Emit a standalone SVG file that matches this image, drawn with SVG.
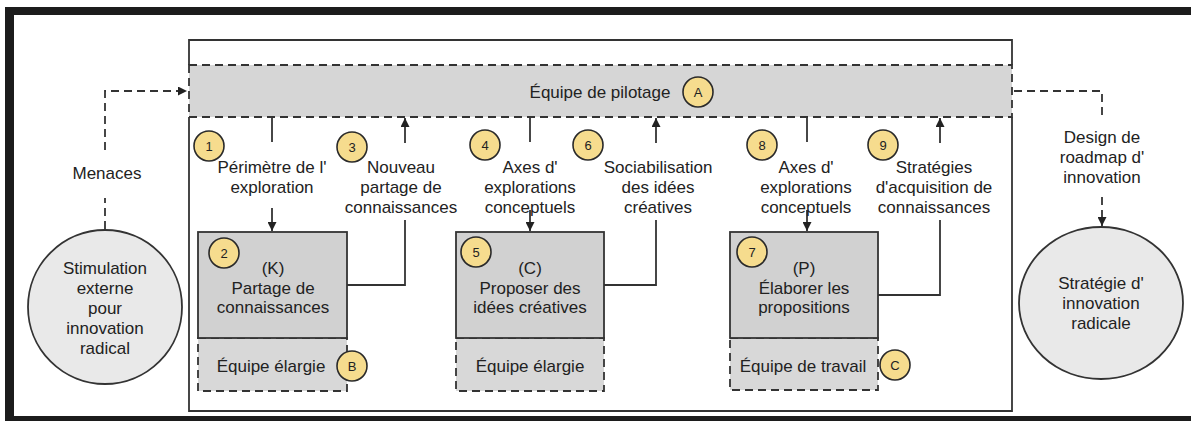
<svg xmlns="http://www.w3.org/2000/svg" width="1191" height="421" viewBox="0 0 1191 421">
<defs>
<style>
text{font-family:"Liberation Sans",Arial,sans-serif;fill:#222;}
.t{font-size:17px;text-anchor:middle;}
.bt{font-size:13px;text-anchor:middle;}
.badge{fill:#f6dc8e;stroke:#2a2a2a;stroke-width:1.6;}
.box{fill:#d1d1d1;stroke:#333;stroke-width:1.8;}
.team{fill:#d8d8d8;stroke:#333;stroke-width:1.8;stroke-dasharray:8 5;}
.circ{fill:#e9e9e9;stroke:#333;stroke-width:1.8;}
.ln{fill:none;stroke:#333;stroke-width:1.8;}
.dl{fill:none;stroke:#333;stroke-width:1.8;stroke-dasharray:8 5;}
</style>
<marker id="ah" viewBox="0 0 10 10" refX="10" refY="5" markerWidth="9" markerHeight="9" markerUnits="userSpaceOnUse" orient="auto">
<path d="M0,0 L10,5 L0,10 z" fill="#222"/>
</marker>
</defs>
<rect x="0" y="0" width="1191" height="421" fill="#fff"/>
<g id="frame" fill="#1c1c1c">
<rect x="5" y="7" width="1186" height="8"/>
<rect x="5" y="7" width="9" height="414"/>
<rect x="5" y="416" width="1186" height="5"/>
</g>
<g id="main-box">
<path class="ln" d="M189,65 V40 H1012 V65 M189,117 V411 H1012 V117"/>
</g>
<g id="pilotage">
<rect x="189" y="65" width="823" height="52" fill="#d6d6d6" stroke="#333" stroke-width="1.8" stroke-dasharray="8 5"/>
<text class="t" x="600" y="98">Équipe de pilotage</text>
<circle class="badge" cx="698" cy="92" r="15"/>
<text class="bt" x="698" y="97">A</text>
</g>
<g id="stimulation">
<circle class="circ" cx="105" cy="307" r="77"/>
<text class="t" x="105" y="274">Stimulation</text>
<text class="t" x="105" y="294">externe</text>
<text class="t" x="105" y="314">pour</text>
<text class="t" x="105" y="334">innovation</text>
<text class="t" x="105" y="354">radical</text>
</g>
<g id="strategie">
<ellipse class="circ" cx="1101" cy="303" rx="82" ry="76"/>
<text class="t" x="1101" y="289">Stratégie d'</text>
<text class="t" x="1101" y="309">innovation</text>
<text class="t" x="1101" y="329">radicale</text>
</g>
<g id="node-k">
<rect class="team" x="198" y="338" width="149" height="53"/>
<rect class="box" x="198" y="232" width="149" height="106"/>
<text class="t" x="273" y="274">(K)</text>
<text class="t" x="273" y="294">Partage de</text>
<text class="t" x="273" y="313">connaissances</text>
<text class="t" x="271" y="372">Équipe élargie</text>
<circle class="badge" cx="224" cy="253" r="15"/>
<text class="bt" x="224" y="258">2</text>
<circle class="badge" cx="352" cy="366" r="15"/>
<text class="bt" x="352" y="371">B</text>
</g>
<g id="node-c">
<rect class="team" x="456" y="338" width="148" height="53"/>
<rect class="box" x="456" y="232" width="148" height="106"/>
<text class="t" x="530" y="274">(C)</text>
<text class="t" x="530" y="294">Proposer des</text>
<text class="t" x="530" y="313">idées créatives</text>
<text class="t" x="530" y="372">Équipe élargie</text>
<circle class="badge" cx="476" cy="252" r="15"/>
<text class="bt" x="476" y="257">5</text>
</g>
<g id="node-p">
<rect class="team" x="730" y="338" width="148" height="52"/>
<rect class="box" x="730" y="232" width="148" height="106"/>
<text class="t" x="804" y="274">(P)</text>
<text class="t" x="804" y="294">Élaborer les</text>
<text class="t" x="804" y="313">propositions</text>
<text class="t" x="803" y="372">Équipe de travail</text>
<circle class="badge" cx="752" cy="252" r="15"/>
<text class="bt" x="752" y="257">7</text>
<circle class="badge" cx="895" cy="365" r="15"/>
<text class="bt" x="895" y="370">C</text>
</g>
<g id="connectors">
<path class="dl" d="M105,229 V198 M105,150 V91 H187" marker-end="url(#ah)"/>
<path class="dl" d="M1014,91 H1102 V117"/>
<path class="dl" d="M1102,197 V226" marker-end="url(#ah)"/>
<path class="ln" d="M272,117 V142"/>
<path class="ln" d="M272,208 V231" marker-end="url(#ah)"/>
<path class="ln" d="M347,285 H405 V220"/>
<path class="ln" d="M405,143 V118" marker-end="url(#ah)"/>
<path class="ln" d="M530,117 V142"/>
<path class="ln" d="M530,210 V231" marker-end="url(#ah)"/>
<path class="ln" d="M604,285 H656 V220"/>
<path class="ln" d="M656,143 V118" marker-end="url(#ah)"/>
<path class="ln" d="M807,117 V142"/>
<path class="ln" d="M807,210 V231" marker-end="url(#ah)"/>
<path class="ln" d="M878,295 H940 V220"/>
<path class="ln" d="M940,143 V118" marker-end="url(#ah)"/>
</g>
<g id="labels">
<text class="t" x="107" y="179">Menaces</text>
<text class="t" x="1102" y="143">Design de</text>
<text class="t" x="1102" y="163">roadmap d'</text>
<text class="t" x="1102" y="183">innovation</text>
<text class="t" x="272" y="173">Périmètre de l'</text>
<text class="t" x="272" y="193">exploration</text>
<text class="t" x="401" y="173">Nouveau</text>
<text class="t" x="401" y="193">partage de</text>
<text class="t" x="401" y="213">connaissances</text>
<text class="t" x="530" y="173">Axes d'</text>
<text class="t" x="530" y="193">explorations</text>
<text class="t" x="530" y="213">conceptuels</text>
<text class="t" x="658" y="173">Sociabilisation</text>
<text class="t" x="658" y="193">des idées</text>
<text class="t" x="658" y="213">créatives</text>
<text class="t" x="806" y="173">Axes d'</text>
<text class="t" x="806" y="193">explorations</text>
<text class="t" x="806" y="213">conceptuels</text>
<text class="t" x="934" y="173">Stratégies</text>
<text class="t" x="934" y="193">d'acquisition de</text>
<text class="t" x="934" y="213">connaissances</text>
</g>
<g id="badges">
<circle class="badge" cx="209" cy="146" r="15"/>
<text class="bt" x="209" y="151">1</text>
<circle class="badge" cx="352" cy="147" r="15"/>
<text class="bt" x="352" y="152">3</text>
<circle class="badge" cx="485" cy="145" r="15"/>
<text class="bt" x="485" y="150">4</text>
<circle class="badge" cx="588" cy="145" r="15"/>
<text class="bt" x="588" y="150">6</text>
<circle class="badge" cx="762" cy="145" r="15"/>
<text class="bt" x="762" y="150">8</text>
<circle class="badge" cx="883" cy="145" r="15"/>
<text class="bt" x="883" y="150">9</text>
</g>
</svg>
